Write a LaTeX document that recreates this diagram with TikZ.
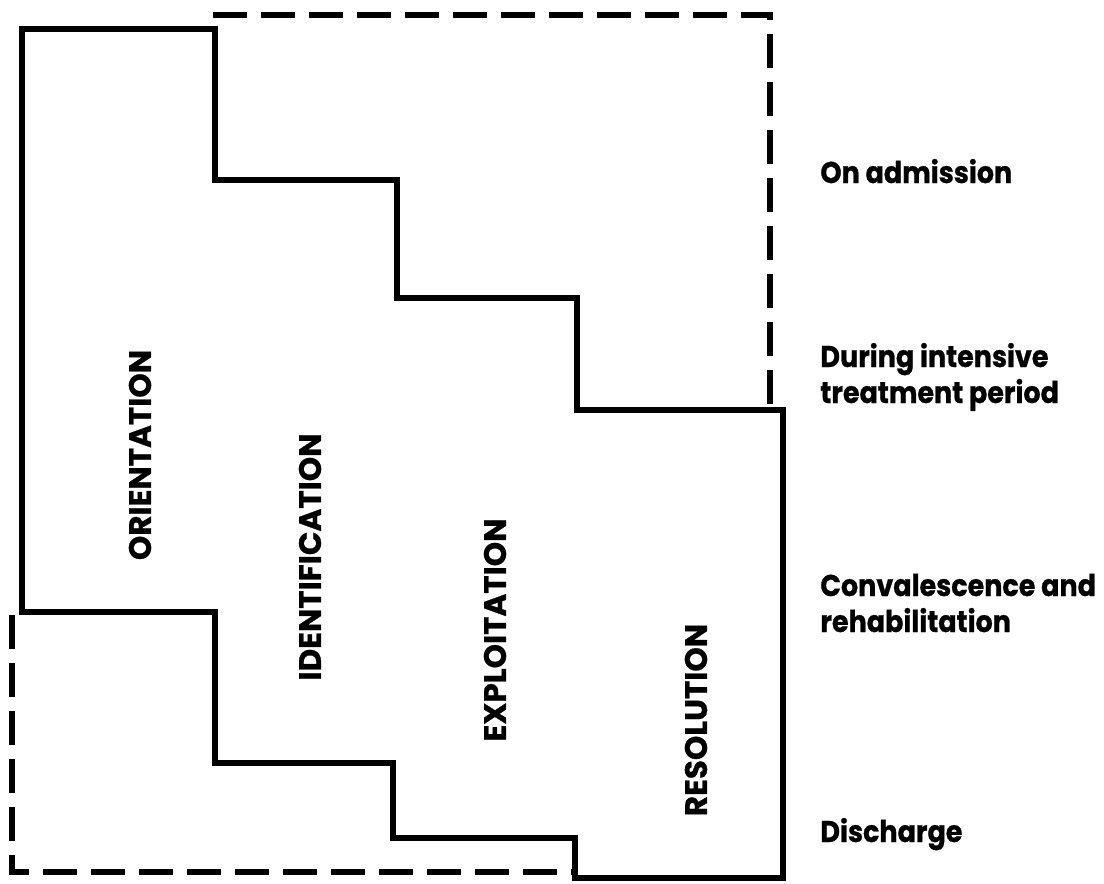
\documentclass[tikz,border=0pt]{standalone}
\usepackage{fontspec}
\setmainfont{Poppins}
\newfontfamily\stagefont{Poppins}[FakeBold=0.8]
\newfontfamily\whenfont{Poppins}[FakeStretch=0.9, FakeBold=0.8]
\usetikzlibrary{positioning}

\begin{document}
\begin{tikzpicture}[x=0.5pt,y=-0.5pt, outline/.style={line width=3pt, line join=miter}, period/.style={line width=3pt, dash pattern=on 17pt off 7pt}, stage/.style={rotate=90, inner sep=0pt, font=\stagefont\bfseries\fontsize{15.5}{18}\selectfont}, when/.style={anchor=base west, align=left, inner sep=0pt, font=\whenfont\bfseries\fontsize{15}{18}\selectfont}]

	\useasboundingbox (0,0) rectangle (1104,884);

	% staircase of the four phases
	\draw[outline] (22,29) -- (215,29) -- (215,180) -- (397,180) -- (397,298) -- (577,298) -- (577,410) -- (783,410) -- (783,878) -- (575,878) -- (575,838) -- (393,838) -- (393,763) -- (215,763) -- (215,612) -- (22,612) -- cycle;

	% hospital stay
	\draw[period] (213,15) -- (770,15) -- (770,408);
	\draw[period] (12,615) -- (12,872) -- (573,872);

	\node[stage] (orientation) at (140,455) {ORIENTATION};
	\node[stage] (identification) at (310,557) {IDENTIFICATION};
	\node[stage] (exploitation) at (495,630) {EXPLOITATION};
	\node[stage] (resolution) at (696,720) {RESOLUTION};

	\node[when] (admission) at (820,183) {On admission};
	\node[when] (intensive) at (820,403) {During intensive\\treatment period};
	\node[when] (convalescence) at (820,632) {Convalescence and\\rehabilitation};
	\node[when] (discharge) at (820,842) {Discharge};

\end{tikzpicture}
\end{document}
